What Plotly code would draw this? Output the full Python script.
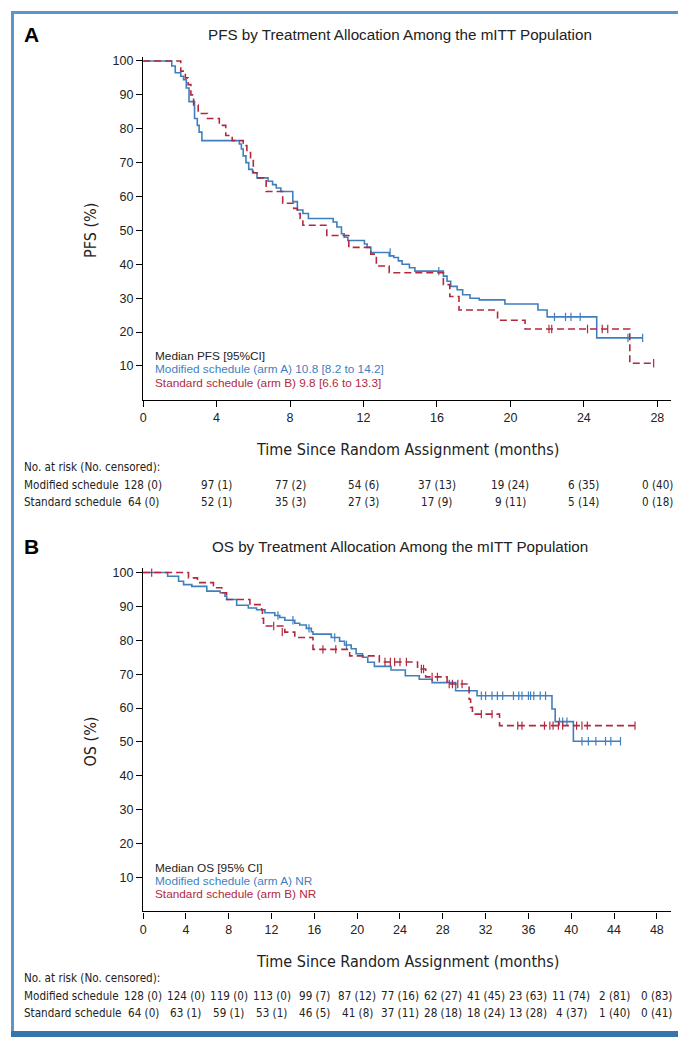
import plotly.graph_objects as go

W, H = 686, 1037

# ---------------- data ----------------
# PFS, arm A (modified schedule)
pfs_a_t = [0, 1.56, 1.75, 2.05, 2.2, 2.35, 2.5, 2.8, 2.95, 3.05, 3.2, 5.24, 5.35, 5.45, 5.6, 5.75, 5.96, 6.2,
           6.8, 7.05, 7.25, 7.5, 8.15, 8.4, 8.7, 9.0, 10.35, 10.55, 10.8, 10.95, 11.15, 12.05, 12.2, 12.4,
           13.4, 13.65, 13.9, 14.1, 14.5, 14.8, 16.35, 16.55, 16.75, 17.1, 17.4, 17.8, 18.3, 19.7, 21.5,
           22.0, 24.7, 27.2]
pfs_a_s = [100, 98.5, 96.5, 95.5, 94.5, 92, 88, 83, 81, 79, 76.5, 75.5, 74, 72, 70, 68, 67, 65.5,
           64.5, 63.5, 62.5, 61.5, 58.5, 56, 55, 53.5, 52.5, 51, 49, 48, 47, 46, 45, 43.5,
           42.5, 42, 41, 40, 39, 38, 36.5, 35, 33.5, 32.5, 31, 30, 29.5, 28.3, 26.5,
           24.5, 18.3, 18.3]
pfs_a_cens_t = [13.45, 16.1, 22.4, 23.0, 23.3, 23.8, 26.4, 27.2]
pfs_a_cens_s = [43.5, 38, 24.5, 24.5, 24.5, 24.5, 18.3, 18.3]

# PFS, arm B (standard schedule)
pfs_b_t = [0, 2.05, 2.3, 2.45, 2.6, 2.75, 3.0, 3.5, 4.15, 4.5, 4.85, 5.45, 5.65, 5.85, 6.0, 6.2, 6.7, 7.6,
           8.2, 8.4, 8.55, 8.7, 10.0, 11.2, 12.4, 12.7, 13.4, 16.35, 16.7, 17.2, 19.3, 20.8, 26.5, 27.8]
pfs_b_s = [100, 97, 95, 93, 90, 87, 84.5, 83, 81, 78, 76.5, 75, 73, 71, 67, 65.5, 61.5, 58,
           56.5, 55, 53.5, 51.5, 48.5, 45, 43, 39.5, 37.5, 34, 30.5, 26.5, 23.5, 20.9, 10.8, 10.8]
pfs_b_cens_t = [22.1, 22.25, 24.2, 25.0, 25.3, 27.8]
pfs_b_cens_s = [20.9, 20.9, 20.9, 20.9, 20.9, 10.8]

# OS, arm A
os_a_t = [0, 2.29, 3.31, 3.78, 4.55, 5.95, 7.19, 7.65, 7.81, 8.74, 9.83, 10.6, 11.38, 12.3, 12.77, 13.24,
          14.17, 14.63, 15.25, 15.72, 15.87, 17.58, 18.36, 18.82, 19.44, 19.9, 20.5, 20.99, 21.61, 23.16,
          24.5, 25.8, 27.0, 29.2, 31.2, 38.2, 38.5, 40.2, 44.6]
os_a_s = [100, 98.9, 97.4, 96.4, 95.9, 94.5, 94, 93, 92, 90.3, 89.5, 89, 88.1, 87.3, 86.7, 85.9,
          85, 84.5, 83.5, 82.5, 81.8, 80.8, 79.7, 78.6, 77.5, 76, 75, 73.5, 72.3, 71.2,
          69.5, 68.5, 67.5, 65.1, 63.6, 59.7, 56, 50.2, 50.2]
os_a_cens_t = [12.6, 14.0, 15.5, 17.9, 19.0, 31.6, 32.0, 32.6, 33.1, 33.6, 34.6, 35.1, 35.4, 36.0, 36.2,
               36.5, 37.1, 37.6, 38.9, 39.2, 39.6, 41.0, 41.6, 42.3, 43.2, 43.7, 44.6]
os_a_cens_s = [87.3, 85.9, 83.5, 80.8, 78.6, 63.6, 63.6, 63.6, 63.6, 63.6, 63.6, 63.6, 63.6, 63.6, 63.6,
               63.6, 63.6, 63.6, 56, 56, 56, 50.2, 50.2, 50.2, 50.2, 50.2, 50.2]

# OS, arm B
os_b_t = [0, 4.24, 5.08, 6.57, 7.35, 7.8, 9.98, 11.07, 11.15, 11.25, 13.24, 14.17, 15.87, 19.3, 22.07,
          25.64, 26.4, 28.4, 30.46, 30.6, 30.77, 33.3, 45.96]
os_b_s = [100, 98.4, 97, 95.5, 94, 92, 90.5, 89, 86.5, 84.2, 82.4, 80.8, 77.3, 75.4, 73.6,
          71.5, 69.2, 67.1, 62.6, 60.2, 58.2, 54.8, 54.8]
os_b_cens_t = [0.8, 12.2, 13.0, 16.8, 18.0, 22.6, 23.1, 23.5, 24.0, 24.6, 26.0, 26.2, 27.0, 27.5, 28.6,
               28.9, 29.4, 29.8, 31.6, 32.6, 35.0, 35.4, 37.5, 38.0, 38.3, 38.8, 39.2, 40.5, 41.0, 41.5, 45.96]
os_b_cens_s = [100, 84.2, 82.4, 77.3, 77.3, 73.6, 73.6, 73.6, 73.6, 73.6, 71.5, 71.5, 69.2, 69.2, 67.1,
               67.1, 67.1, 67.1, 58.2, 58.2, 54.8, 54.8, 54.8, 54.8, 54.8, 54.8, 54.8, 54.8, 54.8, 54.8, 54.8]

# risk tables
pfs_times = [0, 4, 8, 12, 16, 20, 24, 28]
pfs_risk_a = ["128 (0)", "97 (1)", "77 (2)", "54 (6)", "37 (13)", "19 (24)", "6 (35)", "0 (40)"]
pfs_risk_b = ["64 (0)", "52 (1)", "35 (3)", "27 (3)", "17 (9)", "9 (11)", "5 (14)", "0 (18)"]
os_times = [0, 4, 8, 12, 16, 20, 24, 28, 32, 36, 40, 44, 48]
os_risk_a = ["128 (0)", "124 (0)", "119 (0)", "113 (0)", "99 (7)", "87 (12)", "77 (16)", "62 (27)",
             "41 (45)", "23 (63)", "11 (74)", "2 (81)", "0 (83)"]
os_risk_b = ["64 (0)", "63 (1)", "59 (1)", "53 (1)", "46 (5)", "41 (8)", "37 (11)", "28 (18)",
             "18 (24)", "13 (28)", "4 (37)", "1 (40)", "0 (41)"]
y_ticks = [10, 20, 30, 40, 50, 60, 70, 80, 90, 100]

# ---------------- styling ----------------
BLUE = "#3f7fbf"
RED = "#b3283f"
FRAME = "#5b95cf"
BAND = "#3674ab"
SANS = "Liberation Sans, Arial, Helvetica, sans-serif"
NARROW = "DejaVu Sans Condensed, sans-serif"


def px(x):
    return x / W


def py(y):
    return 1 - y / H


fig = go.Figure()


def add_curves(t_a, s_a, ct_a, cs_a, t_b, s_b, ct_b, cs_b, xa, ya):
    fig.add_trace(go.Scatter(x=t_a, y=s_a, mode="lines", line=dict(color=BLUE, width=1.6, shape="hv"),
                             xaxis=xa, yaxis=ya, showlegend=False, hoverinfo="skip"))
    fig.add_trace(go.Scatter(x=ct_a, y=cs_a, mode="markers",
                             marker=dict(symbol="line-ns", size=6, line=dict(color=BLUE, width=1.2)),
                             xaxis=xa, yaxis=ya, showlegend=False, hoverinfo="skip"))
    fig.add_trace(go.Scatter(x=t_b, y=s_b, mode="lines",
                             line=dict(color=RED, width=1.6, shape="hv", dash="7px,4px"),
                             xaxis=xa, yaxis=ya, showlegend=False, hoverinfo="skip"))
    fig.add_trace(go.Scatter(x=ct_b, y=cs_b, mode="markers",
                             marker=dict(symbol="line-ns", size=6, line=dict(color=RED, width=1.2)),
                             xaxis=xa, yaxis=ya, showlegend=False, hoverinfo="skip"))


add_curves(pfs_a_t, pfs_a_s, pfs_a_cens_t, pfs_a_cens_s, pfs_b_t, pfs_b_s, pfs_b_cens_t, pfs_b_cens_s, "x", "y")
add_curves(os_a_t, os_a_s, os_a_cens_t, os_a_cens_s, os_b_t, os_b_s, os_b_cens_t, os_b_cens_s, "x2", "y2")

X0, X1 = 132.7, 663
common_x = dict(showline=True, linecolor="black", linewidth=1.4, ticks="outside", ticklen=6,
                tickcolor="black", tickwidth=1.2, showgrid=False, zeroline=False,
                tickfont=dict(family=SANS, size=12.5, color="#222"))
common_y = dict(showline=True, linecolor="black", linewidth=1.4, ticks="outside", ticklen=6,
                tickcolor="black", tickwidth=1.2, showgrid=False, zeroline=False, range=[0, 101.2],
                tickvals=y_ticks, tickfont=dict(family=SANS, size=12.5, color="#222"))

fig.update_layout(
    width=W, height=H, margin=dict(l=0, r=0, t=0, b=0),
    paper_bgcolor="white", plot_bgcolor="white", showlegend=False,
    xaxis=dict(domain=[px(X0), px(X1)], range=[0, 28.75], tickvals=pfs_times, anchor="y", **common_x),
    yaxis=dict(domain=[py(390), py(46)], anchor="x", **common_y),
    xaxis2=dict(domain=[px(X0), px(X1)], range=[0, 49.33], tickvals=os_times, anchor="y2", **common_x),
    yaxis2=dict(domain=[py(903), py(559)], anchor="x2", **common_y),
)

ann = []


def text(x, y, s, size, family=SANS, color="#222", xanchor="center", bold=False, angle=0, xref="paper"):
    if bold:
        s = "<b>" + s + "</b>"
    ann.append(dict(x=x, y=py(y), xref=xref, yref="paper", text=s, showarrow=False,
                    xanchor=xanchor, yanchor="middle", textangle=angle, borderpad=0,
                    font=dict(family=family, size=size, color=color)))


for off, lab, ttl, ytl, med, arm_a, arm_b, times, ra, rb, xr in [
    (0, "A", "PFS by Treatment Allocation Among the mITT Population", "PFS (%)", "Median PFS [95%CI]",
     "Modified schedule (arm A) 10.8 [8.2 to 14.2]", "Standard schedule (arm B) 9.8 [6.6 to 13.3]",
     pfs_times, pfs_risk_a, pfs_risk_b, "x"),
    (513, "B", "OS by Treatment Allocation Among the mITT Population", "OS (%)", "Median OS [95% CI]",
     "Modified schedule (arm A) NR", "Standard schedule (arm B) NR",
     os_times, os_risk_a, os_risk_b, "x2"),
]:
    text(px(12), 24 + off, lab, 21, bold=True, color="black", xanchor="left")
    text(px(391), 24 + off, ttl, 15.2)
    text(px(80), 220 + off, ytl, 16, family=NARROW, angle=-90)
    text(px(398), 440 + off, "Time Since Random Assignment (months)", 16, family=NARROW)
    text(px(144), 346 + off, med, 11.8, xanchor="left")
    text(px(144), 359.5 + off, arm_a, 11.8, color=BLUE, xanchor="left")
    text(px(144), 373 + off, arm_b, 11.8, color=RED, xanchor="left")
    text(px(12), 457 + off, "No. at risk (No. censored):", 11.6, family=NARROW, xanchor="left")
    text(px(12), 475 + off, "Modified schedule", 11.6, family=NARROW, xanchor="left")
    text(px(12), 492 + off, "Standard schedule", 11.6, family=NARROW, xanchor="left")
    for t, a, b in zip(times, ra, rb):
        text(t, 475 + off, a, 11.6, family=NARROW, xref=xr)
        text(t, 492 + off, b, 11.6, family=NARROW, xref=xr)

fig.update_layout(annotations=ann)

# frame and bottom band
shapes = [
    dict(type="rect", xref="paper", yref="paper", x0=0, x1=px(3), y0=0, y1=1, fillcolor=FRAME, line_width=0),
    dict(type="rect", xref="paper", yref="paper", x0=px(683), x1=1, y0=0, y1=1, fillcolor=FRAME, line_width=0),
    dict(type="rect", xref="paper", yref="paper", x0=0, x1=1, y0=py(3), y1=1, fillcolor=FRAME, line_width=0),
    dict(type="rect", xref="paper", yref="paper", x0=0, x1=1, y0=0, y1=py(1023), fillcolor=BAND, line_width=0),
]
fig.update_layout(shapes=shapes)

fig.write_html("out.html")
